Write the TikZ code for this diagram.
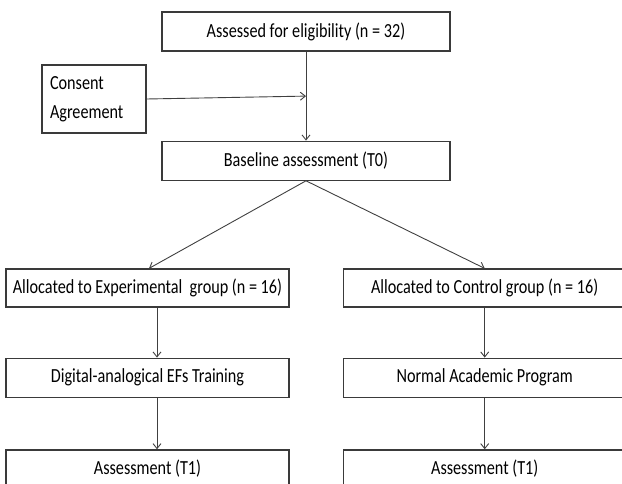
\documentclass[tikz,border=0pt]{standalone}
\usepackage{fontspec}
\setmainfont{Carlito}[FakeStretch=0.81]
\usepackage{tikz}
\usetikzlibrary{arrows.meta,positioning,calc}
\definecolor{boxline}{HTML}{3A3A3A}
\definecolor{arrowline}{HTML}{404040}

\begin{document}
\begin{tikzpicture}[
    x=1pt, y=1pt,
    every node/.style={font=\fontsize{20}{28.5}\selectfont},
    stage/.style={draw=boxline,line width=1.2pt,fill=white,
                  minimum width=283pt,minimum height=38pt,inner sep=0pt,align=center},
    arrow/.style={-{Straight Barb[length=5pt,width=8pt]},line width=0.9pt,arrowline}
  ]
    \useasboundingbox (0,0) rectangle (622,483);
    \node[stage, minimum width=288pt, minimum height=39pt] (elig) at (306,451.5)
      {Assessed for eligibility (n = 32)};
    \node[stage, below=89pt of elig, minimum width=288pt, minimum height=39pt] (base)
      {Baseline assessment (T0)};
    \node[stage, minimum width=0pt, minimum height=68pt, text width=88pt,
          inner xsep=8pt, align=left] (consent) at (94,384)
      {Consent\\Agreement};
    \node[stage] (exp) at (147.5,195) {Allocated to Experimental\ \ group (n = 16)};
    \node[stage, right=53pt of exp] (ctrl) {Allocated to Control group (n = 16)};
    \node[stage, below=50pt of exp, minimum height=39pt] (train) {Digital-analogical EFs Training};
    \node[stage, right=53pt of train, minimum height=39pt] (normal) {Normal Academic Program};
    \node[stage, below=51.5pt of train] (postL) {Assessment (T1)};
    \node[stage, right=53pt of postL] (postR) {Assessment (T1)};
    \coordinate (join) at ($(elig.south)!0.5!(base.north)$);
    \draw[arrow] (elig) -- (base);
    \draw[arrow] (consent.east) -- (join);
    \draw[arrow] (base.south) -- ([xshift=1.5pt]exp.north);
    \draw[arrow] (base.south) -- (ctrl.north);
    \draw[arrow] ([xshift=9.5pt]exp.south) -- ([xshift=9.5pt]train.north);
    \draw[arrow] ([xshift=9.5pt]train.south) -- ([xshift=9.5pt]postL.north);
    \draw[arrow] (ctrl) -- (normal);
    \draw[arrow] (normal) -- (postR);
\end{tikzpicture}
\end{document}
